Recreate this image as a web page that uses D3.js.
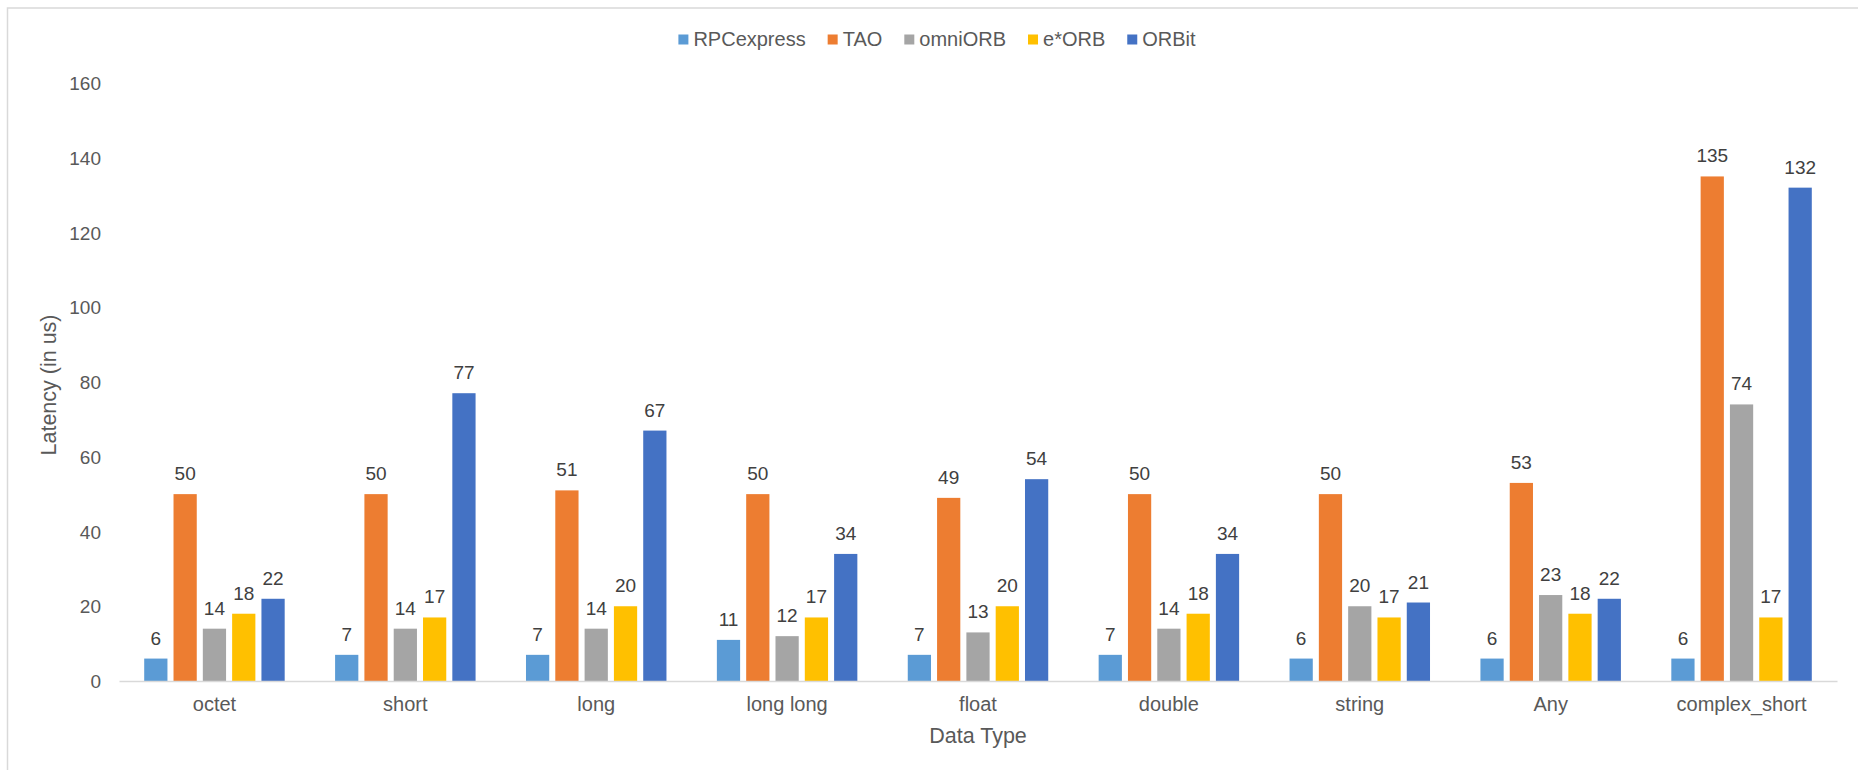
<!DOCTYPE html>
<html>
<head>
<meta charset="utf-8">
<script src="https://cdn.jsdelivr.net/npm/d3@7"></script>
<style>
  body { margin: 0; background: #fff; }
  svg text { font-family: "Liberation Sans", Arial, sans-serif; }
</style>
</head>
<body>
<div class="barChart"></div>
<script>
var categories = ["octet", "short", "long", "long long", "float", "double", "string", "Any", "complex_short"];
var seriesNames = ["RPCexpress", "TAO", "omniORB", "e*ORB", "ORBit"];
var rpcexpress = [6, 7, 7, 11, 7, 7, 6, 6, 6];
var tao = [50, 50, 51, 50, 49, 50, 50, 53, 135];
var omniorb = [14, 14, 14, 12, 13, 14, 20, 23, 74];
var eorb = [18, 17, 20, 17, 20, 18, 17, 18, 17];
var orbit = [22, 77, 67, 34, 54, 34, 21, 22, 132];
var yTicks = [0, 20, 40, 60, 80, 100, 120, 140, 160];
var colors = ["#5B9BD5", "#ED7D31", "#A5A5A5", "#FFC000", "#4472C4"];

function init() {
  var w = 1858;
  var h = 770;
  var seriesValues = [rpcexpress, tao, omniorb, eorb, orbit];

  // one row per bar
  var bars = [];
  categories.forEach(function(c, i) {
    seriesNames.forEach(function(s, j) {
      bars.push({ cat: c, series: s, value: seriesValues[j][i] });
    });
  });

  var colorScale = d3.scaleOrdinal().domain(seriesNames).range(colors);

  var x0 = d3.scaleBand()
    .domain(categories)
    .range([119, 1837])
    .padding(0);

  var x1 = d3.scaleBand()
    .domain(seriesNames)
    .range([0, x0.bandwidth()])
    .paddingInner(0.207)
    .paddingOuter(0.86);

  var yScale = d3.scaleLinear()
    .domain([0, 160])
    .range([681, 83]);

  var svg = d3.select(".barChart")
    .append("svg")
    .attr("width", w)
    .attr("height", h);

  // chart border (runs off the right and bottom edge)
  svg.append("rect")
    .attr("x", 7.5)
    .attr("y", 8)
    .attr("width", 1900)
    .attr("height", 800)
    .attr("fill", "none")
    .attr("stroke", "#D9D9D9")
    .attr("stroke-width", 1.5);

  svg.selectAll("rect.bar")
    .data(bars)
    .enter()
    .append("rect")
    .attr("class", "bar")
    .attr("x", function(d) { return x0(d.cat) + x1(d.series); })
    .attr("y", function(d) { return yScale(d.value); })
    .attr("width", x1.bandwidth())
    .attr("height", function(d) { return yScale(0) - yScale(d.value); })
    .style("fill", function(d) { return colorScale(d.series); });

  // value labels
  svg.selectAll("text.value")
    .data(bars)
    .enter()
    .append("text")
    .attr("class", "value")
    .attr("x", function(d) { return x0(d.cat) + x1(d.series) + x1.bandwidth() / 2; })
    .attr("y", function(d) { return yScale(d.value) - 14; })
    .attr("text-anchor", "middle")
    .attr("font-size", "19px")
    .attr("fill", "#404040")
    .text(function(d) { return d.value; });

  // x axis
  var xAxis = svg.append("g")
    .attr("transform", "translate(0," + yScale(0) + ")")
    .call(d3.axisBottom(x0).tickSize(0).tickPadding(0));
  xAxis.select(".domain").attr("stroke", "#D9D9D9").attr("stroke-width", 1.5);
  xAxis.selectAll("text")
    .attr("dy", null)
    .attr("y", 30)
    .attr("font-size", "20px")
    .attr("font-family", "Liberation Sans, Arial, sans-serif")
    .attr("fill", "#595959");

  // y axis
  var yAxis = svg.append("g")
    .attr("transform", "translate(101,0)")
    .call(d3.axisLeft(yScale).tickValues(yTicks).tickSize(0).tickPadding(0));
  yAxis.select(".domain").remove();
  yAxis.selectAll("text")
    .attr("dy", "0.35em")
    .attr("font-size", "19px")
    .attr("font-family", "Liberation Sans, Arial, sans-serif")
    .attr("fill", "#595959");

  svg.append("text")
    .attr("x", 978)
    .attr("y", 743)
    .attr("text-anchor", "middle")
    .attr("font-size", "21.5px")
    .attr("fill", "#595959")
    .text("Data Type");

  svg.append("text")
    .attr("transform", "rotate(-90)")
    .attr("x", -385)
    .attr("y", 56)
    .attr("text-anchor", "middle")
    .attr("font-size", "21.5px")
    .attr("fill", "#595959")
    .text("Latency (in us)");

  // legend
  var legend = svg.append("g").attr("class", "legend");
  var legendItem = legend.selectAll(".legend-item")
    .data(seriesNames)
    .enter().append("g")
    .attr("class", "legend-item");

  legendItem.append("rect")
    .attr("x", 0)
    .attr("y", 34.5)
    .attr("width", 10)
    .attr("height", 10)
    .style("fill", function(d) { return colorScale(d); });

  legendItem.append("text")
    .attr("x", 15)
    .attr("y", 46)
    .attr("font-size", "20px")
    .attr("fill", "#595959")
    .text(function(d) { return d; });

  var offsets = [];
  var pos = 0;
  legendItem.each(function() {
    offsets.push(pos);
    pos += 15 + this.querySelector("text").getComputedTextLength() + 22;
  });
  var total = pos - 22;
  var start = 937 - total / 2;
  legendItem.attr("transform", function(d, i) {
    return "translate(" + (start + offsets[i]) + ",0)";
  });
}

window.onload = init;
</script>
</body>
</html>
